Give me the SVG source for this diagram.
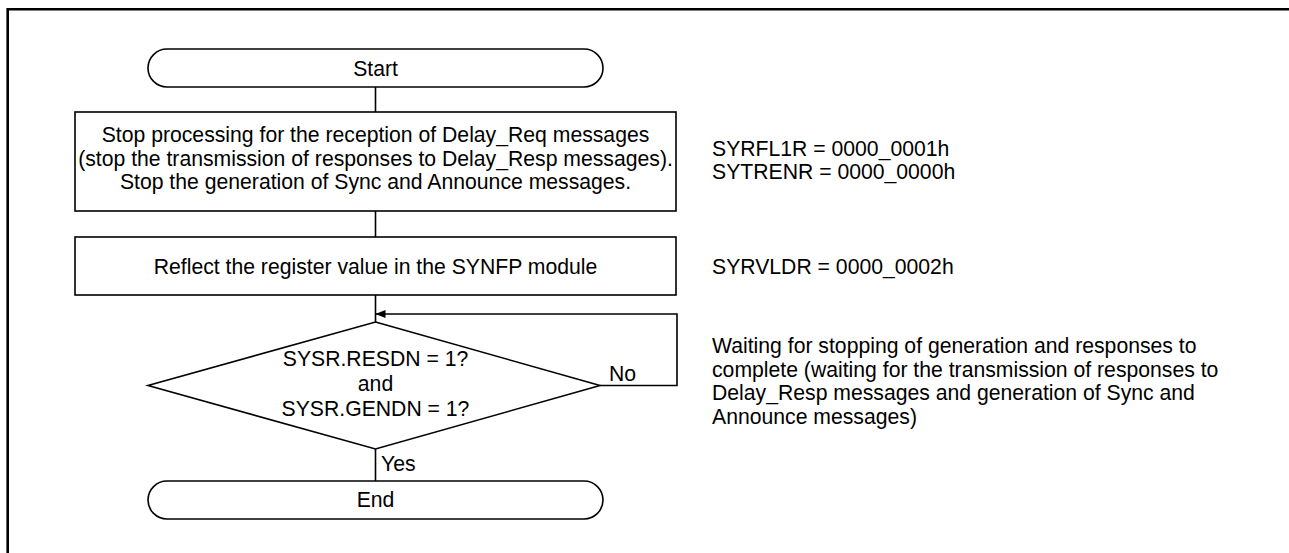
<svg xmlns="http://www.w3.org/2000/svg" width="1289" height="553" viewBox="0 0 1289 553">
<style>
  .shape { fill: #ffffff; stroke: #000000; stroke-width: 1.6; }
  .conn { fill: none; stroke: #000000; stroke-width: 1.6; }
  text { font-family: "Liberation Sans", Arial, sans-serif; font-size: 21.2px; fill: #000000; }
  .c { text-anchor: middle; }
</style>
<defs>
  <marker id="arrow" markerWidth="10" markerHeight="8" refX="10" refY="4" orient="auto" markerUnits="userSpaceOnUse">
    <path d="M0,0 L10,4 L0,8 Z" fill="#000000"/>
  </marker>
</defs>
<rect x="0" y="0" width="1289" height="553" fill="#ffffff"/>
<path d="M7.7,553 V9.3 H1290" fill="none" stroke="#000000" stroke-width="2.6"/>

<g id="connectors">
  <path class="conn" d="M375.5,87 V112"/>
  <path class="conn" d="M375.5,211 V237"/>
  <path class="conn" d="M375.5,295 V322"/>
  <path class="conn" d="M375.5,449 V481"/>
  <path class="conn" d="M600,385.5 H677 V314 H375.5" marker-end="url(#arrow)"/>
  <text x="609" y="381">No</text>
  <text x="381" y="471">Yes</text>
</g>

<g id="start">
  <rect class="shape" x="148" y="49" width="455" height="38" rx="19" ry="19"/>
  <text class="c" x="375.5" y="75.5">Start</text>
</g>

<g id="step1">
  <rect class="shape" x="75" y="112" width="601" height="99"/>
  <text class="c" x="375.5" y="142">Stop processing for the reception of Delay_Req messages</text>
  <text class="c" x="375.5" y="165.5">(stop the transmission of responses to Delay_Resp messages).</text>
  <text class="c" x="375.5" y="189">Stop the generation of Sync and Announce messages.</text>
</g>

<g id="step2">
  <rect class="shape" x="75" y="237" width="601" height="58"/>
  <text class="c" x="375.5" y="273.5">Reflect the register value in the SYNFP module</text>
</g>

<g id="decision">
  <polygon class="shape" points="375.5,322 600,385.5 375.5,449 148,385.5"/>
  <text class="c" x="375.5" y="366">SYSR.RESDN = 1?</text>
  <text class="c" x="375.5" y="391">and</text>
  <text class="c" x="375.5" y="416">SYSR.GENDN = 1?</text>
</g>

<g id="end">
  <rect class="shape" x="148" y="481" width="455" height="38" rx="19" ry="19"/>
  <text class="c" x="375.5" y="507">End</text>
</g>

<g id="note1">
  <text x="712" y="155.5">SYRFL1R = 0000_0001h</text>
  <text x="712" y="179">SYTRENR = 0000_0000h</text>
</g>

<g id="note2">
  <text x="712" y="273.5">SYRVLDR = 0000_0002h</text>
</g>

<g id="note3">
  <text x="712" y="353">Waiting for stopping of generation and responses to</text>
  <text x="712" y="376.5">complete (waiting for the transmission of responses to</text>
  <text x="712" y="400">Delay_Resp messages and generation of Sync and</text>
  <text x="712" y="423.5">Announce messages)</text>
</g>
</svg>
